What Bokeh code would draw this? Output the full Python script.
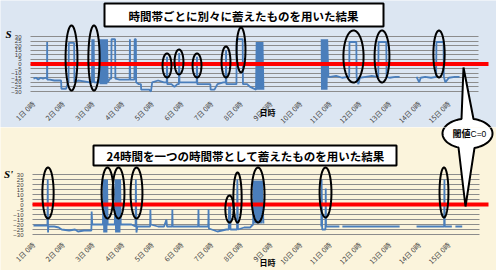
import math
import numpy as np
from bokeh.plotting import figure
from bokeh.layouts import column
from bokeh.models import (Range1d, FixedTicker, PolyAnnotation, BoxAnnotation, Label,
                          LinearAxis, Grid)
from bokeh.embed import file_html
from bokeh.resources import INLINE

NaN = float("nan")

# ---- axes content -------------------------------------------------------
tick_days = list(range(1, 16))
tick_labels = [f"{d}日 0時" for d in tick_days]
y_ticks = list(range(-30, 31, 5))
threshold = 0

title_top = "時間帯ごとに別々に蓄えたものを用いた結果"
title_bottom = "24時間を一つの時間帯として蓄えたものを用いた結果"
x_title = "日時"

# ---- S : statistics stored separately for each time slot (day, value) ---
s_points = [
    (1.00, -16), (1.08, -15), (1.16, -17), (1.24, -15), (1.32, -16), (1.40, -15),
    (1.455, -16), (1.46, 24), (1.465, -17), (1.55, -17), (1.70, -18), (1.85, -18),
    (1.93, -18), (1.94, -27), (2.10, -27), (2.16, -20), (2.18, -20), (2.19, 23),
    (2.37, 23), (2.38, -20), (2.50, -18), (2.70, -19), (2.90, -20), (2.97, -20),
    (2.98, 27), (2.99, -20), (3.03, 27), (3.04, -20), (3.15, -20), (3.22, -20),
    (3.24, 27), (3.26, -22), (3.28, 27), (3.30, -22), (3.32, 27), (3.34, -22),
    (3.36, 27), (3.38, -22), (3.40, 27), (3.42, -22), (3.44, 27), (3.46, -22),
    (3.48, 27), (3.50, -20), (3.58, -16), (3.62, -16), (3.63, 27), (3.75, 27),
    (3.76, -16), (3.90, -17), (4.10, -17), (4.24, -17), (4.25, 27), (4.26, -17),
    (4.40, -17), (4.41, 27), (4.45, 27), (4.46, -20), (4.55, -22), (4.62, -22),
    (4.63, -28), (4.90, -28), (4.96, -30), (5.00, -20), (5.20, -18), (5.40, -20),
    (5.49, -20), (5.50, 8), (5.51, -22), (5.65, -22), (5.75, -25), (5.85, -22),
    (5.90, -22), (5.91, 12), (5.92, -20), (6.10, -20), (6.30, -20), (6.50, -20),
    (6.51, 8), (6.52, -22), (6.70, -22), (6.90, -22), (6.96, -22), (6.97, -28),
    (7.10, -28), (7.20, -22), (7.40, -20), (7.48, -20), (7.49, 15), (7.50, -22),
    (7.70, -22), (7.84, -22), (7.85, 27), (8.05, 27), (8.06, -22), (8.20, -22),
    (8.30, -25), (8.50, -28), (8.52, 24), (8.54, -28), (8.56, 24), (8.58, -28),
    (8.60, 24), (8.62, -28), (8.64, 24), (8.66, -28), (8.68, 24), (8.70, -28),
    (8.72, 24), (8.75, -28), (8.76, NaN),
    (10.71, 27), (10.72, -28), (10.74, 27), (10.76, -28), (10.78, 27), (10.80, -28),
    (10.82, 27), (10.84, -28), (10.86, 27), (10.88, -28), (10.90, 27), (10.94, -14),
    (11.00, -14), (11.20, -13), (11.40, -15), (11.60, -14), (11.64, -14), (11.65, 24),
    (11.88, 24), (11.89, -14), (11.95, -22), (12.00, -15), (12.20, -14), (12.40, -13),
    (12.60, -14), (12.62, -14), (12.63, 24), (12.89, 24), (12.90, -14), (13.00, -15),
    (13.20, -14), (13.34, -14), (13.35, NaN),
    (13.91, -14), (14.00, -20), (14.05, -15), (14.20, -14), (14.40, -15), (14.57, -14),
    (14.58, 24), (14.82, 24), (14.83, -14), (14.88, -20), (15.00, -15), (15.20, -14),
    (15.36, -14),
]

# ---- S' : one 24-hour slot (day, value) ---------------------------------
sp_points = [
    (1.00, -21), (1.15, -21), (1.30, -21), (1.47, -21), (1.48, 25), (1.49, -28),
    (1.50, -22), (1.70, -22), (1.85, -23), (1.95, -25), (2.20, -26), (2.40, -25),
    (2.50, -27), (2.70, -26), (2.95, -26), (2.96, -7), (2.98, -20), (3.10, -20),
    (3.34, -20), (3.36, 25), (3.38, -28), (3.40, 25), (3.42, -28), (3.44, 25),
    (3.46, -28), (3.48, 25), (3.50, -20), (3.74, -20), (3.76, 25), (3.78, -28),
    (3.80, 25), (3.82, -28), (3.84, 25), (3.86, -28), (3.88, 25), (3.90, -28),
    (3.92, 25), (3.94, -20), (4.10, -20), (4.30, -20), (4.44, -22), (4.45, 25),
    (4.47, -28), (4.50, -22), (4.70, -22), (4.93, -22), (4.94, -5), (4.95, -20),
    (5.20, -22), (5.40, -22), (5.48, -15), (5.50, -22), (5.67, -22), (5.68, -5),
    (5.69, -22), (5.90, -22), (6.20, -22), (6.55, -22), (6.56, -5), (6.57, -22),
    (6.89, -22), (6.90, -5), (6.91, -24), (7.20, -27), (7.50, -25), (7.58, -25),
    (7.59, 0), (7.63, 0), (7.64, -25), (7.86, -25), (7.87, 25), (7.89, -25),
    (8.10, -23), (8.30, -23), (8.40, -20), (8.42, 24), (8.44, -19), (8.46, 24),
    (8.48, -19), (8.50, 24), (8.52, -19), (8.54, 24), (8.56, -19), (8.58, 24),
    (8.60, -19), (8.62, 24), (8.64, -19), (8.66, 24), (8.68, -19), (8.70, 24),
    (8.75, -19), (8.76, NaN),
    (10.70, -22), (10.71, 25), (10.73, -25), (10.84, -25), (10.85, 16), (10.86, -22),
    (11.00, -22), (11.20, -22), (11.31, -22), (11.32, NaN), (11.41, -22), (11.80, -22),
    (12.20, -22), (12.60, -22), (13.00, -22), (13.34, -22), (13.35, NaN),
    (13.91, -22), (14.30, -22), (14.70, -22), (14.84, -22), (14.85, 25), (14.86, -22),
    (15.10, -22), (15.15, NaN), (15.22, -22), (15.45, -22),
]

# ---- circled crossings: (day, value, half-width in days, half-height) ---
s_marks = [
    (2.281, 6.5, 0.20, 35.5), (3.039, 6.5, 0.19, 35.5), (5.499, -1.6, 0.15, 13.1),
    (5.904, 2.2, 0.15, 13.6), (6.511, -1.6, 0.15, 13.1), (7.488, 2.2, 0.15, 16.9),
    (7.994, 15.3, 0.15, 24.5), (11.785, 8.2, 0.34, 28.4), (12.746, 8.2, 0.25, 28.4),
    (14.667, 10.9, 0.19, 25.6),
]
sp_marks = [
    (1.489, 11.5, 0.19, 25.5), (3.494, 11.5, 0.20, 25.5), (3.865, 11.5, 0.20, 25.5),
    (4.472, 11.5, 0.20, 25.5), (7.606, -4.5, 0.14, 13.5), (7.876, 7.0, 0.14, 25.0),
    (8.567, 9.5, 0.22, 27.5), (10.842, 12.0, 0.20, 25.0), (14.835, 12.0, 0.15, 25.0),
]

BLUE = "#4a7ebb"
JP = "Noto Sans CJK JP"
W = 496
TOP_H = 127
BOT_H = 270 - TOP_H
PX_PER_DAY = 29.67
DAY1_PX = 33.0          # page x of the "1日 0時" tick


def day_at(px):
    return 1 + (px - DAY1_PX) / PX_PER_DAY


class Panel:
    """One chart: the whole canvas is the plot frame, so callouts can sit anywhere."""

    def __init__(self, page_top, height, v_top_px, v_bot_px, plot_left_px, plot_right_px,
                 bg, standoff):
        self.page_top = page_top
        self.height = height
        # value scale: +30 at v_top_px, -30 at v_bot_px (page pixels)
        self.k = 60.0 / (v_bot_px - v_top_px)
        self.v_top_px = v_top_px
        y_hi = self.val_at(page_top)
        y_lo = self.val_at(page_top + height)
        self.plot_x0 = day_at(plot_left_px)
        self.plot_x1 = day_at(plot_right_px)
        p = figure(width=W, height=height,
                   x_range=Range1d(day_at(0), day_at(W)), y_range=Range1d(y_lo, y_hi),
                   x_axis_location=None, y_axis_location=None,
                   output_backend="svg", toolbar_location=None,
                   min_border=0, min_border_left=0, min_border_right=0,
                   min_border_top=0, min_border_bottom=0)
        p.background_fill_color = bg
        p.border_fill_color = bg
        p.outline_line_color = None
        for g in p.grid:
            g.visible = False
        grid = Grid(dimension=1, ticker=FixedTicker(ticks=y_ticks),
                    cross_bounds=(self.plot_x0, self.plot_x1),
                    grid_line_color="#8c8c8c", grid_line_width=1)
        p.add_layout(grid)

        xaxis = LinearAxis(fixed_location=-30, ticker=FixedTicker(ticks=tick_days),
                           major_label_overrides={d: t for d, t in zip(tick_days, tick_labels)},
                           major_label_orientation=math.pi / 4,
                           major_label_text_font=JP, major_label_text_font_size="7px",
                           major_label_text_color="#404040", major_label_standoff=standoff)
        yaxis = LinearAxis(fixed_location=self.plot_x0, ticker=FixedTicker(ticks=y_ticks),
                           major_label_text_font="Liberation Sans",
                           major_label_text_font_size="6px",
                           major_label_text_color="#404040", major_label_standoff=3)
        for ax in (xaxis, yaxis):
            ax.axis_line_color = None
            ax.major_tick_line_color = None
            ax.minor_tick_line_color = None
        p.add_layout(xaxis, "below")
        p.add_layout(yaxis, "left")
        self.p = p

    def val_at(self, py):
        return 30 - (py - self.v_top_px) * self.k

    # page pixels -> screen units (left / bottom of canvas)
    def sx(self, px):
        return px

    def sy(self, py):
        return self.page_top + self.height - py

    def series(self, points, marks, red_end_px):
        p = self.p
        days = [d for d, _ in points]
        vals = [v for _, v in points]
        p.line(days, vals, line_color=BLUE, line_width=1.8)
        # threshold line, running past the plot edge to the callout
        p.add_layout(PolyAnnotation(xs=[self.plot_x0, day_at(red_end_px)],
                                    ys=[threshold, threshold],
                                    fill_alpha=0, line_color="#ff0000", line_alpha=1,
                                    line_width=4))
        for cx, cy, rx, ry in marks:
            t = np.linspace(0, 2 * np.pi, 64)
            p.add_layout(PolyAnnotation(xs=list(cx + rx * np.cos(t)),
                                        ys=list(cy + ry * np.sin(t)),
                                        fill_alpha=0, line_color="black", line_alpha=1,
                                        line_width=2))

    def title_box(self, left, right, top, bottom, text, cx, cy, size):
        self.p.add_layout(BoxAnnotation(
            left=self.sx(left), right=self.sx(right), top=self.sy(top), bottom=self.sy(bottom),
            left_units="screen", right_units="screen", top_units="screen",
            bottom_units="screen", fill_color="white", fill_alpha=1,
            line_color="black", line_alpha=1, line_width=2))
        self.text(cx, cy, text, size)

    def text(self, px, py, text, size, font=JP, style="bold", align="center"):
        self.p.add_layout(Label(x=self.sx(px), y=self.sy(py), x_units="screen",
                                y_units="screen", text=text, text_align=align,
                                text_baseline="middle", text_font=font,
                                text_font_style=style, text_font_size=size,
                                text_color="black"))

    def callout(self):
        # speech bubble with one pointer up and one pointer down (page pixels)
        cx, cy, rx, ry = 467.0, 133.0, 25.0, 15.0
        up_tip = (463.0, 67.0)
        down_tip = (465.0, 206.0)
        a_top_r = -math.acos((473 - cx) / rx)
        a_top_l = 2 * math.pi - math.acos((461 - cx) / rx)
        a_bot_r = math.acos((474 - cx) / rx)
        a_bot_l = math.acos((458 - cx) / rx)
        xs, ys = [], []
        for a in np.linspace(a_top_r, a_bot_r, 30):
            xs.append(cx + rx * math.cos(a)); ys.append(cy + ry * math.sin(a))
        xs.append(down_tip[0]); ys.append(down_tip[1])
        for a in np.linspace(a_bot_l, a_top_l, 40):
            xs.append(cx + rx * math.cos(a)); ys.append(cy + ry * math.sin(a))
        xs.append(up_tip[0]); ys.append(up_tip[1])
        self.p.add_layout(PolyAnnotation(
            xs=[self.sx(v) for v in xs], ys=[self.sy(v) for v in ys],
            xs_units="screen", ys_units="screen", fill_color="white", fill_alpha=1,
            line_color="black", line_alpha=1, line_width=2))


# ---- top chart -----------------------------------------------------------
top = Panel(0, TOP_H, 36, 91, 30, 478, "#dce6f2", 5)
top.series(s_points, s_marks, 488)
top.callout()
top.title_box(104, 383, 3, 26, title_top, 243, 15, "11.5px")
top.text(8, 33, "S", "11px", font="Liberation Serif", style="bold italic")
top.text(267, 112, x_title, "8px")

# ---- bottom chart --------------------------------------------------------
bot = Panel(TOP_H, BOT_H, 174, 234, 32, 479, "#fbf4dc", 3)
bot.series(sp_points, sp_marks, 488)
bot.callout()
bot.title_box(93, 396, 145, 165, title_bottom, 245, 155, "11.5px")
bot.text(8, 173, "S'", "11px", font="Liberation Serif", style="bold italic")
bot.text(267, 262, x_title, "8px")
bot.text(452, 133, "閾値", "9px", align="left")
bot.text(470, 133.5, "C=0", "8.5px", font="Liberation Sans", style="normal", align="left")

page = column(top.p, bot.p, spacing=0)
open("out.html", "w").write(file_html(page, INLINE))
